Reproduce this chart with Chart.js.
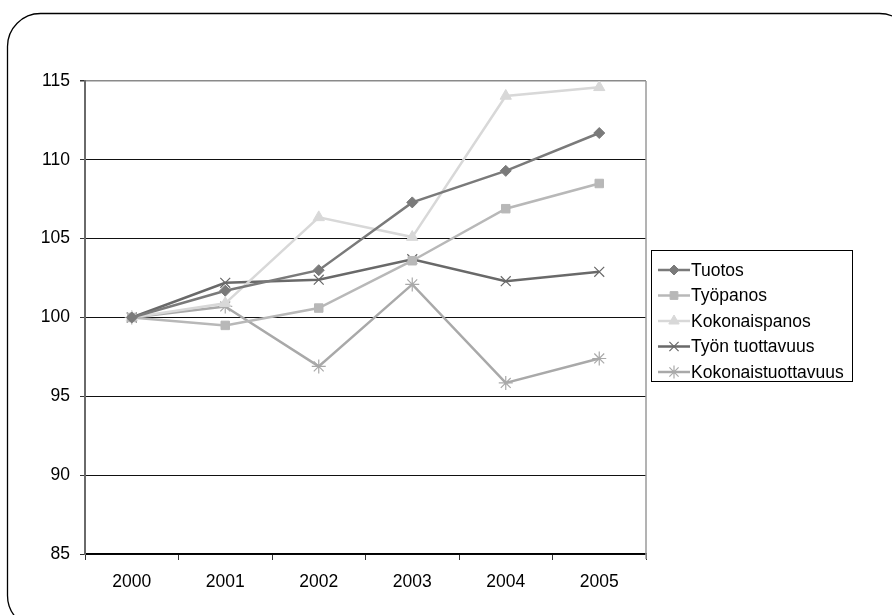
<!DOCTYPE html>
<html>
<head>
<meta charset="utf-8">
<script src="https://cdn.jsdelivr.net/npm/chart.js@4"></script>
<style>
  html, body { margin: 0; padding: 0; background: #fff; }
  #wrap { width: 892px; height: 615px; }
</style>
</head>
<body>
<div id="wrap"><canvas id="myChart" width="892" height="615"></canvas></div>
<script>
// data
const years = ['2000', '2001', '2002', '2003', '2004', '2005'];
const tuotos = [100, 101.7, 103.0, 107.3, 109.3, 111.7];
const tyopanos = [100, 99.5, 100.6, 103.6, 106.9, 108.5];
const kokonaispanos = [100, 100.9, 106.35, 105.1, 114.05, 114.6];
const tyonTuottavuus = [100, 102.2, 102.4, 103.7, 102.3, 102.9];
const kokonaistuottavuus = [100, 100.7, 96.9, 102.1, 95.85, 97.4];
const yTicks = [85, 90, 95, 100, 105, 110, 115];

const FONT = 'Arial, "Liberation Sans", sans-serif';
const FSIZE = 17.5;

const makeSet = (label, data, color, style, radius) => ({
    label: label,
    data: data,
    borderColor: color,
    backgroundColor: color,
    borderWidth: 2.5,
    pointStyle: style,
    pointRadius: radius,
    pointBorderWidth: style === 'crossRot' || style === 'star' ? 1.2 : 1,
    pointBorderColor: color,
    pointBackgroundColor: color,
    tension: 0
});

const datasets = [
    makeSet('Tuotos', tuotos, '#7a7a7a', 'rectRot', 5.5),
    makeSet('Työpanos', tyopanos, '#b8b8b8', 'rect', 6),
    makeSet('Kokonaispanos', kokonaispanos, '#d8d8d8', 'triangle', 6.5),
    makeSet('Työn tuottavuus', tyonTuottavuus, '#696969', 'crossRot', 7),
    makeSet('Kokonaistuottavuus', kokonaistuottavuus, '#a9a9a9', 'star', 7)
];

// outer rounded frame, plot border and the boxed legend
const decor = {
    id: 'decor',
    beforeDraw: (chart) => {
        const ctx = chart.ctx;
        ctx.save();
        ctx.fillStyle = '#fff';
        ctx.fillRect(0, 0, chart.width, chart.height);
        ctx.strokeStyle = '#000';
        ctx.lineWidth = 1.3;
        ctx.beginPath();
        ctx.roundRect(7.5, 13.5, 905, 615, 33);
        ctx.stroke();
        ctx.restore();
    },
    afterDatasetsDraw: (chart) => {
        const ctx = chart.ctx;
        const a = chart.chartArea;
        ctx.save();
        // right border of plot
        ctx.strokeStyle = '#9a9a9a';
        ctx.lineWidth = 1.5;
        ctx.beginPath();
        ctx.moveTo(a.right, a.top);
        ctx.lineTo(a.right, a.bottom + 5);
        ctx.stroke();

        // legend
        const lx = 651.5, ly = 250.5, lw = 201, lh = 131;
        ctx.fillStyle = '#fff';
        ctx.fillRect(lx, ly, lw, lh);
        ctx.strokeStyle = '#000';
        ctx.lineWidth = 1;
        ctx.strokeRect(lx, ly, lw, lh);
        ctx.font = FSIZE + 'px ' + FONT;
        ctx.textBaseline = 'middle';
        ctx.textAlign = 'left';
        chart.data.datasets.forEach((ds, i) => {
            const y = 270 + i * 25.5;
            ctx.strokeStyle = ds.borderColor;
            ctx.lineWidth = 2.5;
            ctx.beginPath();
            ctx.moveTo(658, y);
            ctx.lineTo(690, y);
            ctx.stroke();
            ctx.fillStyle = ds.pointBackgroundColor;
            ctx.strokeStyle = ds.pointBorderColor;
            ctx.lineWidth = ds.pointBorderWidth;
            Chart.helpers.drawPoint(ctx, {
                pointStyle: ds.pointStyle,
                radius: ds.pointRadius - 0.5,
                rotation: 0,
                borderWidth: ds.pointBorderWidth
            }, 674, y);
            ctx.fillStyle = '#000';
            ctx.fillText(ds.label, 691, y + 1);
        });
        ctx.restore();
    }
};

const ctx = document.getElementById('myChart').getContext('2d');
const chart = new Chart(ctx, {
    type: 'line',
    data: { labels: years, datasets: datasets },
    plugins: [decor],
    options: {
        responsive: false,
        animation: false,
        layout: { padding: { left: 0, top: 81, right: 246, bottom: 21 } },
        plugins: {
            legend: { display: false },
            tooltip: { enabled: false }
        },
        scales: {
            x: {
                offset: true,
                afterFit: (scale) => { scale.height = 40; },
                grid: {
                    offset: true,
                    drawOnChartArea: false,
                    drawTicks: true,
                    tickLength: 6,
                    color: '#333',
                    lineWidth: 1
                },
                border: { color: '#000', width: 1.5 },
                ticks: {
                    color: '#000',
                    font: { family: FONT, size: FSIZE },
                    padding: 12,
                    maxRotation: 0
                }
            },
            y: {
                min: 85,
                max: 115,
                afterFit: (scale) => { scale.width = 85; },
                afterBuildTicks: (scale) => {
                    scale.ticks = yTicks.map((v) => ({ value: v }));
                },
                grid: {
                    color: (c) => c.tick && c.tick.value === 115 ? '#8a8a8a' : '#111',
                    lineWidth: (c) => c.tick && c.tick.value === 115 ? 1.5 : 1,
                    tickLength: 5,
                    tickColor: '#333'
                },
                border: { color: '#6a6a6a', width: 2 },
                ticks: {
                    color: '#000',
                    font: { family: FONT, size: FSIZE },
                    padding: 10
                }
            }
        }
    }
});
</script>
</body>
</html>
